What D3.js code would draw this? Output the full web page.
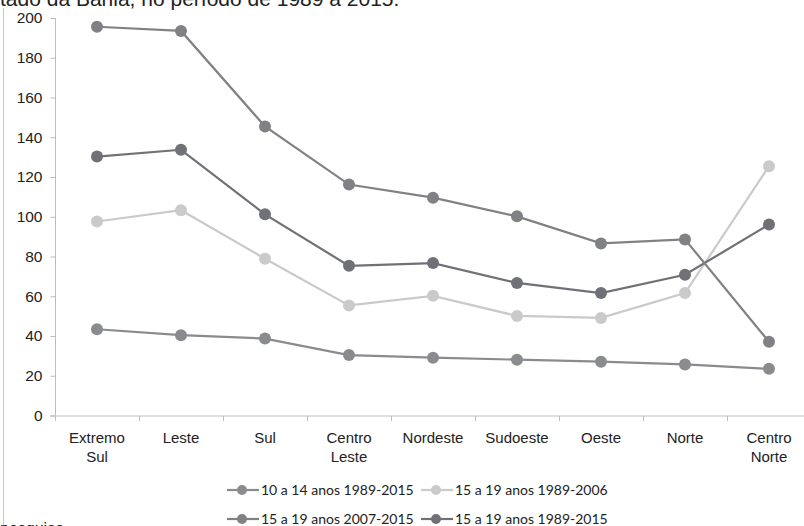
<!DOCTYPE html>
<html>
<head>
<meta charset="utf-8">
<script src="https://cdn.jsdelivr.net/npm/d3@7"></script>
<style>
  body { margin: 0; background: #fff; }
  svg { display: block; }
</style>
</head>
<body>
<div id="container"></div>
<script>
// regioes do eixo x (cada rotulo pode ter duas linhas)
var regioes = ["Extremo Sul", "Leste", "Sul", "Centro Leste", "Nordeste", "Sudoeste", "Oeste", "Norte", "Centro Norte"];
var rotulos = [["Extremo", "Sul"], ["Leste"], ["Sul"], ["Centro", "Leste"], ["Nordeste"], ["Sudoeste"], ["Oeste"], ["Norte"], ["Centro", "Norte"]];

// series
var nomesSeries = ["10 a 14 anos 1989-2015", "15 a 19 anos 1989-2006", "15 a 19 anos 2007-2015", "15 a 19 anos 1989-2015"];
var v10a14 = [43.4, 40.4, 38.7, 30.4, 29.1, 28.1, 27.1, 25.7, 23.5];
var v15a19_8906 = [97.6, 103.3, 78.9, 55.4, 60.2, 50.1, 49.1, 61.6, 125.4];
var v15a19_0715 = [195.6, 193.5, 145.4, 116.2, 109.6, 100.2, 86.6, 88.6, 37.1];
var v15a19_8915 = [130.3, 133.7, 101.2, 75.3, 76.7, 66.7, 61.6, 70.8, 96.1];
var ticksY = [0, 20, 40, 60, 80, 100, 120, 140, 160, 180, 200];

var series = [
    { nome: nomesSeries[0], valores: v10a14, cor: "#8a8b8f" },
    { nome: nomesSeries[1], valores: v15a19_8906, cor: "#cacaca" },
    { nome: nomesSeries[2], valores: v15a19_0715, cor: "#808184" },
    { nome: nomesSeries[3], valores: v15a19_8915, cor: "#707176" }
];

var fonte = "'Liberation Sans', Arial, sans-serif";
var W = 804, H = 526;
var svg = d3.select("#container").append("svg")
    .attr("width", W).attr("height", H);

// borda esquerda da pagina
svg.append("line")
    .attr("x1", 3.5).attr("x2", 3.5).attr("y1", 8).attr("y2", H)
    .attr("stroke", "#c8c8c8").attr("stroke-width", 1);

// titulo (cortado no topo)
svg.append("text")
    .attr("x", 0).attr("y", 6)
    .attr("font-family", fonte)
    .attr("font-size", 21).attr("fill", "#222")
    .text("tado da Bahia, no período de 1989 a 2015.");

// fonte (cortado embaixo)
svg.append("text")
    .attr("x", 0).attr("y", 534)
    .attr("font-family", fonte)
    .attr("font-size", 16).attr("fill", "#222")
    .text("pesquisa");

// escalas
var x = d3.scaleBand().domain(regioes).range([55, 811]).padding(0);
var y = d3.scaleLinear().domain([0, 200]).range([415.5, 18]);
var cx = function (d) { return x(d) + x.bandwidth() / 2; };

// eixo y
var gy = svg.append("g").attr("transform", "translate(55.5,0)")
    .call(d3.axisLeft(y).tickValues(ticksY).tickSize(5).tickPadding(8));
gy.select(".domain").attr("stroke", "#bdbdbd").attr("d", "M0," + y(200) + "V" + y(0));
gy.selectAll(".tick line").attr("stroke", "#bdbdbd");
gy.selectAll(".tick text")
    .attr("font-family", fonte)
    .attr("font-size", 15.5).attr("fill", "#222");

// eixo x
var gx = svg.append("g").attr("transform", "translate(0," + (y(0) + 0.5) + ")");
gx.append("line")
    .attr("x1", 50).attr("x2", W).attr("y1", 0).attr("y2", 0)
    .attr("stroke", "#bdbdbd");
gx.selectAll(".tk")
    .data(regioes)
    .enter().append("line")
    .attr("x1", function (d) { return Math.round(x(d)) + 0.5; })
    .attr("x2", function (d) { return Math.round(x(d)) + 0.5; })
    .attr("y1", 0).attr("y2", 5)
    .attr("stroke", "#bdbdbd");

var lab = gx.selectAll(".lab")
    .data(regioes)
    .enter().append("text")
    .attr("text-anchor", "middle")
    .attr("font-family", fonte)
    .attr("font-size", 15).attr("fill", "#222");
lab.each(function (d, i) {
    var t = d3.select(this);
    rotulos[i].forEach(function (linha, j) {
        t.append("tspan").attr("x", cx(d)).attr("y", 27 + j * 19).text(linha);
    });
});

// linhas e marcadores
var linha = d3.line()
    .x(function (d, i) { return cx(regioes[i]); })
    .y(function (d) { return y(d); });

// desenhar de tras para frente como no original
var ordem = [1, 0, 3, 2];
ordem.forEach(function (k) {
    var s = series[k];
    svg.append("path")
        .datum(s.valores)
        .attr("d", linha)
        .attr("fill", "none")
        .attr("stroke", s.cor)
        .attr("stroke-width", 2.2);
    svg.selectAll(".p" + k)
        .data(s.valores)
        .enter().append("circle")
        .attr("cx", function (d, i) { return cx(regioes[i]); })
        .attr("cy", function (d) { return y(d); })
        .attr("r", 6)
        .attr("fill", s.cor);
});

// legenda
var legPos = [[227, 490], [421, 490], [227, 519], [421, 519]];
series.forEach(function (s, i) {
    var g = svg.append("g").attr("transform", "translate(" + legPos[i][0] + "," + legPos[i][1] + ")");
    g.append("line").attr("x1", 0).attr("x2", 32).attr("y1", 0).attr("y2", 0)
        .attr("stroke", s.cor).attr("stroke-width", 2.2);
    g.append("circle").attr("cx", 15).attr("cy", 0).attr("r", 5).attr("fill", s.cor);
    g.append("text").attr("x", 34).attr("y", 0).attr("dy", "0.35em")
        .attr("font-family", "Lato, Carlito, sans-serif")
        .attr("font-size", 14).attr("fill", "#222")
        .text(s.nome);
});
</script>
</body>
</html>
